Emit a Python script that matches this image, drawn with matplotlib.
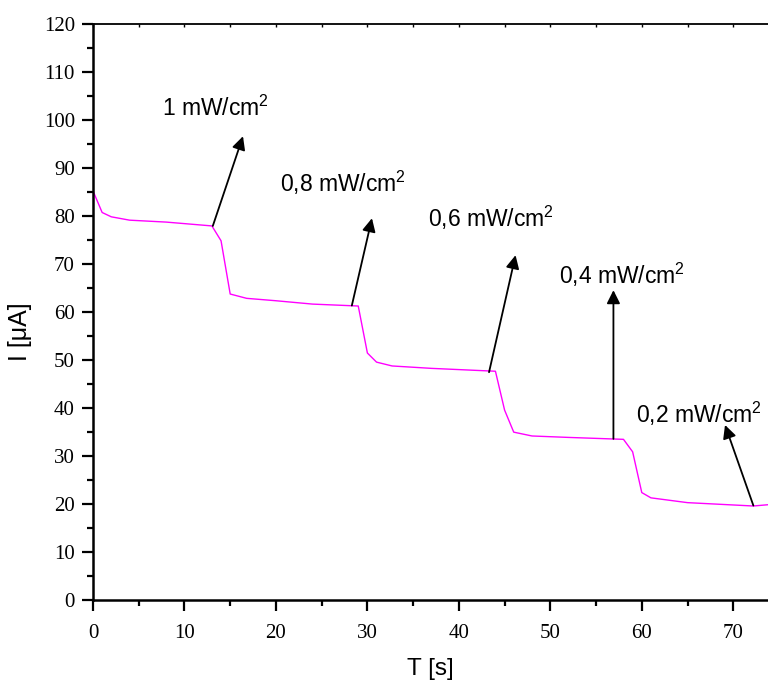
import matplotlib.pyplot as plt
from matplotlib.ticker import MultipleLocator

# photocurrent under stepwise lowered illumination
time_s = [0, 1, 2, 4, 8, 13, 14, 15, 16.8, 20, 24, 29, 30, 31, 32.7, 37,
          44, 45, 46, 48, 52, 58, 59, 60, 61, 65, 72.2, 74]
current_uA = [85.3, 80.8, 79.9, 79.2, 78.8, 78.0, 74.9, 63.8, 62.9, 62.4, 61.7, 61.3,
              51.5, 49.6, 48.8, 48.3, 47.7, 39.6, 35.0, 34.2, 33.9, 33.5, 30.9,
              22.4, 21.3, 20.3, 19.6, 19.9]

# illumination labels: text position, arrow tail, arrow head
labels = ['1 mW/cm$^2$', '0,8 mW/cm$^2$', '0,6 mW/cm$^2$', '0,4 mW/cm$^2$', '0,2 mW/cm$^2$']
label_xy = [(7.5, 102.6), (20.5, 86.9), (36.6, 79.6), (50.9, 67.8), (59.4, 38.9)]
arrow_tail = [(13.1, 78.0), (28.3, 61.4), (43.3, 47.5), (56.9, 33.6), (72.2, 19.7)]
arrow_head = [(16.4, 96.7), (30.5, 79.6), (46.2, 71.9), (56.9, 64.6), (69.1, 36.5)]

plt.rcParams['mathtext.fontset'] = 'custom'
plt.rcParams['mathtext.rm'] = 'Liberation Sans'
plt.rcParams['mathtext.it'] = 'Liberation Sans'
plt.rcParams['mathtext.bf'] = 'Liberation Sans'

fig = plt.figure(figsize=(7.68, 6.84), dpi=100)
ax = fig.add_axes([93 / 768, 84 / 684, 1 - 93 / 768, 575.5 / 684])

ax.plot(time_s, current_uA, color='#ff00ff', lw=1.0)

for text, pos, tail, head in zip(labels, label_xy, arrow_tail, arrow_head):
    ax.annotate('', xy=head, xytext=tail,
                arrowprops=dict(arrowstyle='-|>', color='black', lw=1.3,
                                mutation_scale=20, shrinkA=0, shrinkB=0))
    ax.text(pos[0], pos[1], text, fontsize=16.5, family='Liberation Sans',
            ha='left', va='center')

ax.set_xlim(0, 73.8)
ax.set_ylim(0, 120)
ax.xaxis.set_major_locator(MultipleLocator(10))
ax.xaxis.set_minor_locator(MultipleLocator(5))
ax.yaxis.set_major_locator(MultipleLocator(10))
ax.yaxis.set_minor_locator(MultipleLocator(5))

ax.spines['right'].set_visible(False)
ax.spines['left'].set_linewidth(1.8)
ax.spines['bottom'].set_linewidth(1.8)
ax.spines['top'].set_linewidth(1.3)

ax.tick_params(which='major', direction='out', length=8, width=1.6, pad=5,
               labelsize=15, labelfontfamily='Liberation Serif')
ax.tick_params(which='minor', direction='out', length=4, width=1.6)
ax.tick_params(axis='x', which='major', pad=9)

# small inward marks along the top spine
top = ax.secondary_xaxis('top')
top.set_xticks(range(0, 75, 5))
top.tick_params(direction='in', length=2.5, width=1.0, labeltop=False)
top.spines['top'].set_visible(False)

ax.set_xlabel('T [s]', fontsize=17.5, family='Liberation Sans')
ax.set_ylabel('I [μA]', fontsize=18, family='Liberation Sans')
ax.xaxis.set_label_coords(0.5, -0.1)
ax.yaxis.set_label_coords(-0.09, 0.466)

fig.savefig('out.png', dpi=100)
